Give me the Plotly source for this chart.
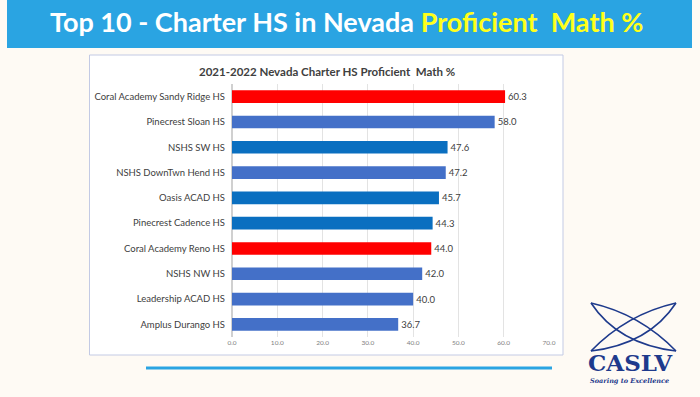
import plotly.graph_objects as go

schools = ["Coral Academy Sandy Ridge HS", "Pinecrest Sloan HS", "NSHS SW HS",
           "NSHS DownTwn Hend HS", "Oasis ACAD HS", "Pinecrest Cadence HS",
           "Coral Academy Reno HS", "NSHS NW HS", "Leadership ACAD HS", "Amplus Durango HS"]
values = [60.3, 58.0, 47.6, 47.2, 45.7, 44.3, 44.0, 42.0, 40.0, 36.7]
bar_colors = ["#FF0000", "#4470C8", "#0A6FC0", "#4470C8", "#0A6FC0", "#0A6FC0",
              "#FF0000", "#4470C8", "#4470C8", "#4470C8"]
tick_vals = [0, 10, 20, 30, 40, 50, 60, 70]
tick_text = ["0.0", "10.0", "20.0", "30.0", "40.0", "50.0", "60.0", "70.0"]

W, H = 700, 397
PL, PR, PT, PB = 232, 549, 84, 337

def px(x):
    return (x - PL) / (PR - PL)

def py(y):
    return 1 - (y - PT) / (PB - PT)

fig = go.Figure(go.Bar(
    x=values, y=schools, orientation="h",
    marker=dict(color=bar_colors, line=dict(width=0)),
    text=[f"{v:.1f}" for v in values], textposition="outside",
    textfont=dict(family="Lato", size=9.5, color="#404040"),
    cliponaxis=False, width=0.5,
))

shapes = []
# banner
shapes.append(dict(type="rect", xref="paper", yref="paper", x0=px(7), x1=px(692),
                   y0=py(0), y1=py(48), fillcolor="#2AA4E2", line=dict(width=0), layer="below"))
# chart box
shapes.append(dict(type="rect", xref="paper", yref="paper", x0=px(89.5), x1=px(563),
                   y0=py(55), y1=py(355), fillcolor="#FFFFFF",
                   line=dict(color="#C3CAE4", width=1), layer="below"))
# bottom line
shapes.append(dict(type="line", xref="paper", yref="paper", x0=px(146), x1=px(552),
                   y0=py(368), y1=py(368), line=dict(color="#2AA4E2", width=3)))

def P(x, y):
    return f"{px(x):.4f},{py(y):.4f}"

# logo curves (X shape)
logo_paths = [
    f"M {P(591,303)} Q {P(640,314)} {P(676,351)}",
    f"M {P(591,303)} Q {P(618,344)} {P(676,351)}",
    f"M {P(676,303)} Q {P(627,314)} {P(591,351)}",
    f"M {P(676,303)} Q {P(649,344)} {P(591,351)}",
]
for p in logo_paths:
    shapes.append(dict(type="path", xref="paper", yref="paper", path=p,
                       line=dict(color="#1E3A8C", width=1.6)))

annotations = [
    dict(text="Top 10 - Charter HS in Nevada <span style='color:#FFFF1A'>Proficient&nbsp; Math %</span>",
         xref="paper", yref="paper", x=px(346), y=py(21), showarrow=False,
         xanchor="center", yanchor="middle",
         font=dict(family="Lato", size=27, color="#FFFFFF", weight="bold")),
    dict(text="2021-2022 Nevada Charter HS Proficient&nbsp; Math %",
         xref="paper", yref="paper", x=px(327), y=py(71), showarrow=False,
         xanchor="center", yanchor="middle",
         font=dict(family="Lato", size=11.5, color="#404040", weight="bold")),
    dict(text="CASLV", xref="paper", yref="paper", x=px(630), y=py(362), showarrow=False,
         xanchor="center", yanchor="middle",
         font=dict(family="DejaVu Serif", size=23, color="#1E3A8C", weight="bold")),
    dict(text="<i>Soaring to Excellence</i>", xref="paper", yref="paper", x=px(629), y=py(381),
         showarrow=False, xanchor="center", yanchor="middle",
         font=dict(family="DejaVu Serif", size=6.5, color="#1E3A8C", weight="bold")),
]

fig.update_layout(
    width=W, height=H,
    margin=dict(l=PL, r=W - PR, t=PT, b=H - PB, pad=0),
    paper_bgcolor="#FEFAF4", plot_bgcolor="rgba(0,0,0,0)",
    showlegend=False, shapes=shapes, annotations=annotations,
    xaxis=dict(range=[0, 70], tickvals=tick_vals, ticktext=tick_text,
               tickfont=dict(family="Lato", size=6.5, color="#808080"),
               showgrid=True, gridcolor="#E3E3E3", gridwidth=1,
               zeroline=True, zerolinecolor="#D0D0D0", showline=False, ticks="",
               fixedrange=True),
    yaxis=dict(autorange="reversed", tickfont=dict(family="Lato", size=9.5, color="#404040"),
               ticks="", showline=False, showgrid=False, ticklabelstandoff=6),
)

fig.write_html("out.html", config={"displayModeBar": False},
               post_script="document.body.style.margin='0';document.body.style.background='#FEFAF4';")
